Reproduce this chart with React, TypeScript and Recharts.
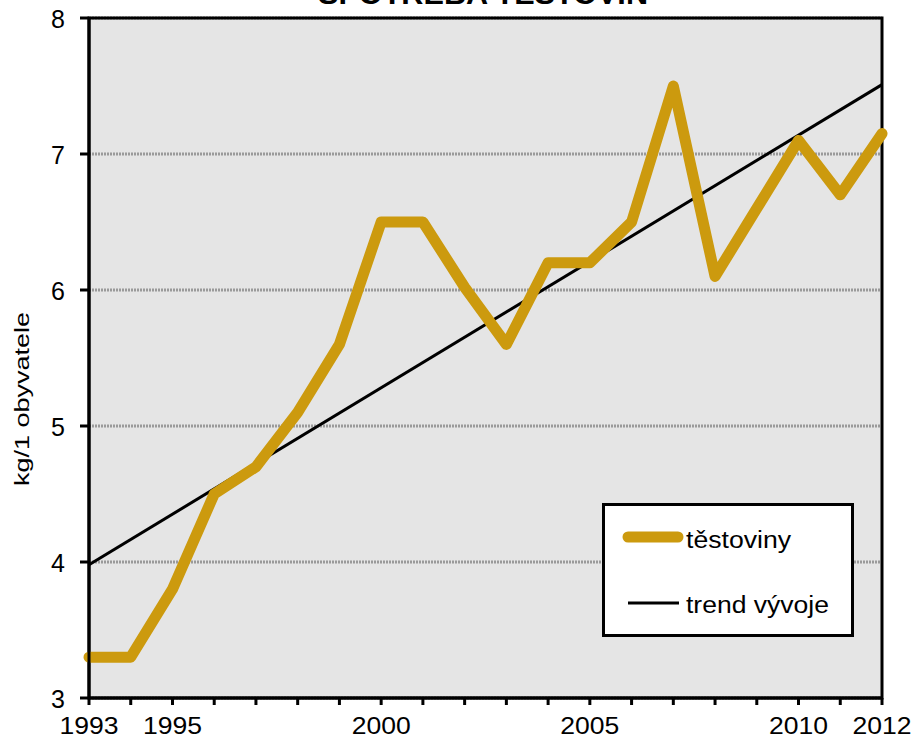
import React from "react";
import {
  CartesianGrid,
  Legend,
  Line,
  LineChart,
  ReferenceArea,
  XAxis,
  YAxis,
} from "recharts";

const years = [
  1993, 1994, 1995, 1996, 1997, 1998, 1999, 2000, 2001, 2002, 2003, 2004, 2005,
  2006, 2007, 2008, 2009, 2010, 2011, 2012,
];
const testoviny = [
  3.3, 3.3, 3.8, 4.5, 4.7, 5.1, 5.6, 6.5, 6.5, 6.02, 5.6, 6.2, 6.2, 6.5, 7.5,
  6.1, 6.6, 7.1, 6.7, 7.15,
];
// trend line endpoints (1993, 2012)
const trendEnds = [3.98, 7.51];
const labelledYears = [1993, 1995, 2000, 2005, 2010, 2012];
const yTicks = [3, 4, 5, 6, 7, 8];

const GOLD = "#cc9a0e";
const FONT = "'Liberation Sans', Arial, sans-serif";

if (typeof document !== "undefined") {
  document.body.style.margin = "0";
  document.documentElement.style.overflow = "hidden";
  document.body.style.overflow = "hidden";
}

const data = years.map((y, i) => ({
  year: y,
  testoviny: testoviny[i],
  trend: i === 0 ? trendEnds[0] : i === years.length - 1 ? trendEnds[1] : null,
}));

function XTick(props: any) {
  const { x, payload } = props;
  if (!labelledYears.includes(payload.value)) return null;
  return (
    <text
      x={x}
      y={734}
      textAnchor="middle"
      fontSize={24}
      fontFamily={FONT}
      fill="#000"
      textLength={59}
      lengthAdjust="spacingAndGlyphs"
    >
      {payload.value}
    </text>
  );
}

function YTick(props: any) {
  const { x, y, payload } = props;
  return (
    <text x={x} y={y + 10} textAnchor="end" fontSize={25} fontFamily={FONT} fill="#000">
      {payload.value}
    </text>
  );
}

function YLabel() {
  return (
    <text
      x={29}
      y={399}
      transform="rotate(-90, 29, 399)"
      textAnchor="middle"
      fontSize={21}
      fontFamily={FONT}
      fill="#000"
      textLength={174}
      lengthAdjust="spacingAndGlyphs"
    >
      kg/1 obyvatele
    </text>
  );
}

function LegendBox() {
  return (
    <div
      style={{
        width: 246,
        height: 128,
        background: "#fff",
        border: "3px solid #000",
        position: "relative",
      }}
    >
      <svg width={246} height={128} style={{ position: "absolute", left: 0, top: 0 }}>
        <line x1={23} x2={73} y1={31} y2={31} stroke={GOLD} strokeWidth={11} strokeLinecap="round" />
        <text
          x={81}
          y={42}
          fontSize={23}
          fontFamily={FONT}
          fill="#000"
          textLength={105}
          lengthAdjust="spacingAndGlyphs"
        >
          těstoviny
        </text>
        <line x1={23} x2={74} y1={97} y2={97} stroke="#000" strokeWidth={3} />
        <text
          x={81}
          y={107}
          fontSize={23}
          fontFamily={FONT}
          fill="#000"
          textLength={143}
          lengthAdjust="spacingAndGlyphs"
        >
          trend vývoje
        </text>
      </svg>
    </div>
  );
}

export default function App() {
  return (
    <div style={{ position: "relative", width: 916, height: 739, background: "#fff" }}>
      <svg width={916} height={30} style={{ position: "absolute", left: 0, top: 0, zIndex: 2 }}>
        <text
          x={483}
          y={4}
          textAnchor="middle"
          fontFamily={FONT}
          fontWeight="bold"
          fontSize={30}
          textLength={330}
          lengthAdjust="spacingAndGlyphs"
        >
          SPOTŘEBA TĚSTOVIN
        </text>
      </svg>
      <LineChart
        width={916}
        height={739}
        data={data}
        margin={{ top: 18, right: 34, bottom: 0, left: 0 }}
      >
        <CartesianGrid
          horizontal
          vertical={false}
          fill="#e5e5e5"
          stroke="#9a9a9a"
          strokeWidth={3}
          strokeDasharray="2 1"
          horizontalValues={yTicks}
        />
        <XAxis
          dataKey="year"
          type="number"
          domain={[1993, 2012]}
          ticks={years}
          interval={0}
          height={41}
          tickSize={7}
          tickMargin={0}
          axisLine={{ stroke: "#000", strokeWidth: 3 }}
          tickLine={{ stroke: "#000", strokeWidth: 3 }}
          tick={<XTick />}
        />
        <YAxis
          type="number"
          domain={[3, 8]}
          ticks={yTicks}
          interval={0}
          width={89}
          tickSize={9}
          tickMargin={15}
          axisLine={{ stroke: "#000", strokeWidth: 3 }}
          tickLine={{ stroke: "#000", strokeWidth: 3 }}
          tick={<YTick />}
          label={<YLabel />}
        />
        <ReferenceArea
          x1={1993}
          x2={2012}
          y1={3}
          y2={8}
          fill="none"
          stroke="#000"
          strokeWidth={3}
          ifOverflow="visible"
        />
        <Line
          dataKey="trend"
          stroke="#000"
          strokeWidth={3}
          dot={false}
          connectNulls
          isAnimationActive={false}
        />
        <Line
          dataKey="testoviny"
          stroke={GOLD}
          strokeWidth={11}
          strokeLinejoin="round"
          strokeLinecap="round"
          dot={false}
          isAnimationActive={false}
        />
        <Legend
          layout="horizontal"
          verticalAlign="middle"
          align="center"
          content={() => <LegendBox />}
          wrapperStyle={{ position: "absolute", left: 602, top: 503, width: 252, height: 134 }}
        />
      </LineChart>
    </div>
  );
}
